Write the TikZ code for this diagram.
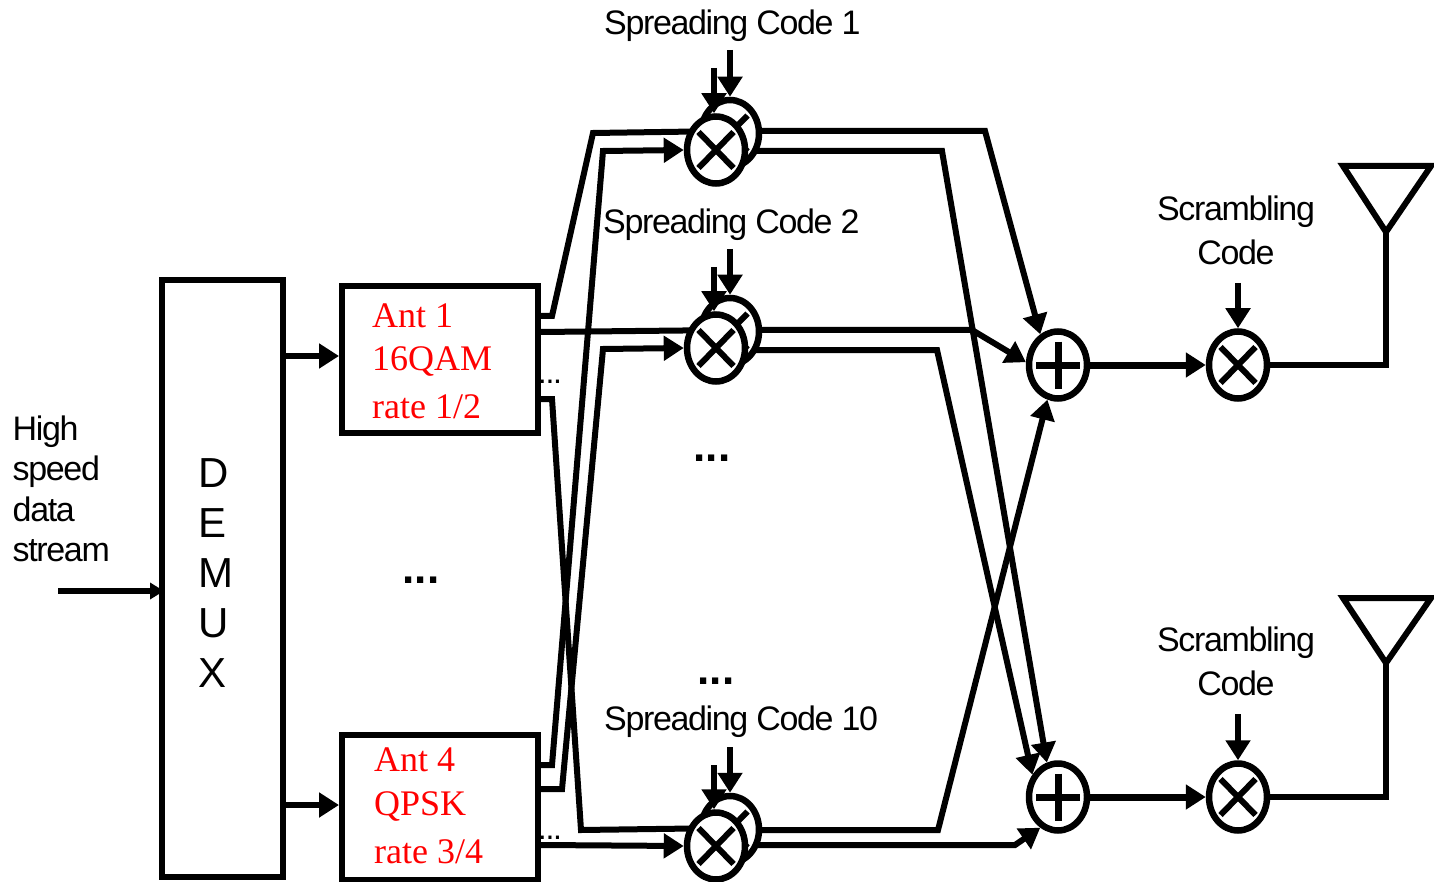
\documentclass[tikz,border=0pt]{standalone}
\usepackage{fontspec}
\setmainfont[LetterSpace=-4]{Liberation Sans}
\newfontfamily\antfont[LetterSpace=0]{Liberation Serif}
\usetikzlibrary{calc, positioning, arrows.meta, backgrounds, shapes.geometric}

\tikzset{
    wire/.style={line width=6pt, line join=miter},
    feed/.style={wire, -{Triangle[length=20pt, width=24pt]}},
    blockbox/.style={draw, rectangle, line width=6pt, fill=white},
    mixer/.style={draw, ellipse, line width=6.5pt, fill=white, minimum width=58pt, minimum height=67pt, inner sep=0pt,
        path picture={
            \draw[line width=6pt] ($(path picture bounding box.center)+(-17.5,-18)$) -- ($(path picture bounding box.center)+(17.5,18)$);
            \draw[line width=6pt] ($(path picture bounding box.center)+(-17.5,18)$) -- ($(path picture bounding box.center)+(17.5,-18)$);
        }},
    adder/.style={draw, ellipse, line width=6.5pt, fill=white, minimum width=58pt, minimum height=67pt, inner sep=0pt,
        path picture={
            \draw[line width=7pt] ($(path picture bounding box.center)+(-22,0)$) -- ($(path picture bounding box.center)+(22,0)$);
            \draw[line width=7pt] ($(path picture bounding box.center)+(0,-23.5)$) -- ($(path picture bounding box.center)+(0,23.5)$);
        }},
    caption/.style={inner sep=0pt, font=\fontsize{34}{40.5}\selectfont},
    antlabel/.style={inner sep=0pt, text=red, align=left, anchor=west, font=\antfont\fontsize{36}{45}\selectfont},
    bigdots/.style={inner sep=0pt, font=\bfseries\fontsize{44}{44}\selectfont\addfontfeature{LetterSpace=1}},
    smalldots/.style={inner sep=0pt, font=\fontsize{32}{32}\selectfont}
}

\begin{document}
\begin{tikzpicture}[x=1pt, y=-1pt]
    \useasboundingbox (0,0) rectangle (1434,882);

    % Blocks
    \node[blockbox, minimum width=121pt, minimum height=597pt] (demux) at (222.5,578.5) {};
    \node[blockbox, minimum width=196pt, minimum height=147pt] (antA) at (440,359.5) {};
    \node[blockbox, minimum width=196pt, minimum height=145pt] (antD) at (440,807.5) {};

    % Spreading mixers, back one first
    \node[mixer] (backA) at (730,133.5) {};
    \node[mixer] (frontA) at (716,150) {};
    \node[mixer] (backB) at (730,331.5) {};
    \node[mixer] (frontB) at (716,348) {};
    \node[mixer] (backC) at (730,829.5) {};
    \node[mixer] (frontC) at (716,846) {};

    % Adders and scramblers
    \node[adder] (addA) at (1058,365) {};
    \node[adder] (addB) at (1058,797) {};
    \node[mixer] (scrA) at (1238,365) {};
    \node[mixer] (scrB) at (1238,797) {};

    % Free ends
    \coordinate (inData) at (58,591);
    \coordinate (codeA) at (730,50);
    \coordinate (codeAF) at (714,68);
    \coordinate (codeB) at (730,249);
    \coordinate (codeBF) at (714,267);
    \coordinate (codeC) at (730,747);
    \coordinate (codeCF) at (714,765);
    \coordinate (scrCodeA) at (1238,283);
    \coordinate (scrCodeB) at (1238,714);
    \coordinate (tipA) at (1386,232);
    \coordinate (tipB) at (1386,663);

    % Wires running behind the mixers
    \begin{scope}[on background layer]
        \draw[wire] ([yshift=43.5pt]antA.east) -- (552,316) -- (593,133) -- (backA |- 0,131);
        \draw[wire] ([yshift=27.5pt]antA.east) -- (backB |- 0,330);
        \draw[wire] ([yshift=-39.5pt]antA.east) -- (552,399) -- (581,830) -- (backC |- 0,828);
        \draw[feed] (backA |- 0,131) -- (985,131) -- (addA.120);
        \draw[feed] (frontA |- 0,151) -- (942,151) -- (addB.108);
        \draw[feed] (backB |- 0,330) -- (972,330) -- (addA.175);
        \draw[feed] (frontB |- 0,350) -- (937,350) -- (addB.139);
        \draw[feed] (backC |- 0,830) -- (938,830) -- (addA.253);
        \draw[feed] (frontC |- 0,845) -- (1015,845) -- (addB.240);
    \end{scope}

    % Arrows
    \draw[wire, -{Triangle[length=14pt, width=16pt]}] (inData) -- ([xshift=5pt,yshift=-12.5pt]demux.west);
    \draw[feed] ([yshift=222.5pt]demux.east) -- (antA.west |- 0,356);
    \draw[feed] ([yshift=-226.5pt]demux.east) -- (antD.west |- 0,805);
    \draw[feed] ([yshift=42.5pt]antD.east) -- (552,765) -- (603,151) -- (frontA.west);
    \draw[feed] ([yshift=18.5pt]antD.east) -- (562,789) -- (603,349) -- (frontB.west);
    \draw[feed] ([yshift=-37.5pt]antD.east) -- (frontC.west);
    \draw[feed] (codeA) -- (backA.north);
    \draw[feed] (codeAF) -- ([xshift=-2pt]frontA.north);
    \draw[feed] (codeB) -- (backB.north);
    \draw[feed] (codeBF) -- ([xshift=-2pt]frontB.north);
    \draw[feed] (codeC) -- (backC.north);
    \draw[feed] (codeCF) -- ([xshift=-2pt]frontC.north);
    \draw[feed, line width=7pt] (addA) -- (scrA);
    \draw[feed, line width=7pt] (addB) -- (scrB);
    \draw[feed] (scrCodeA) -- (scrA);
    \draw[feed] (scrCodeB) -- (scrB);

    % Antennas
    \draw[wire] (scrA) -- (1386,365) -- (tipA);
    \draw[wire] (scrB) -- (1386,797) -- (tipB);
    \draw[wire] (tipA) -- (1343,166) -- (1431,166) -- cycle;
    \draw[wire] (tipB) -- (1343,598) -- (1431,598) -- cycle;

    % Text
    \node[caption, anchor=west] (spreadA) at (604,25.5) {Spreading Code 1};
    \node[caption, anchor=west] (spreadB) at (603,224.5) {Spreading Code 2};
    \node[caption, anchor=west] (spreadC) at (604,721.5) {Spreading Code 10};
    \node[caption, align=center, font=\fontsize{34}{44}\selectfont] (scrTextA) at (1236,230) {Scrambling\\Code};
    \node[caption, align=center, font=\fontsize{34}{44}\selectfont] (scrTextB) at (1236,661) {Scrambling\\Code};
    \node[caption, align=left, anchor=west] (inText) at (12.5,489) {High\\speed\\data\\stream};
    \node[inner sep=0pt, align=left, anchor=west, font=\fontsize{42}{50}\selectfont] (demuxText) at (198,573.5) {D\\E\\M\\U\\X};
    \node[antlabel] (antAText) at (372,361) {Ant 1\\[-2pt]16QAM\\[3pt]rate 1/2};
    \node[antlabel] (antDText) at (374,806) {Ant 4\\[-1pt]QPSK\\[3pt]rate 3/4};

    % Dots
    \node[bigdots] (dotsA) at (421,580.5) {...};
    \node[bigdots] (dotsB) at (712,458) {...};
    \node[bigdots] (dotsC) at (716,681) {...};
    \node[smalldots] (dotsD) at (550,382) {...};
    \node[smalldots] (dotsE) at (550,838) {...};

\end{tikzpicture}
\end{document}
